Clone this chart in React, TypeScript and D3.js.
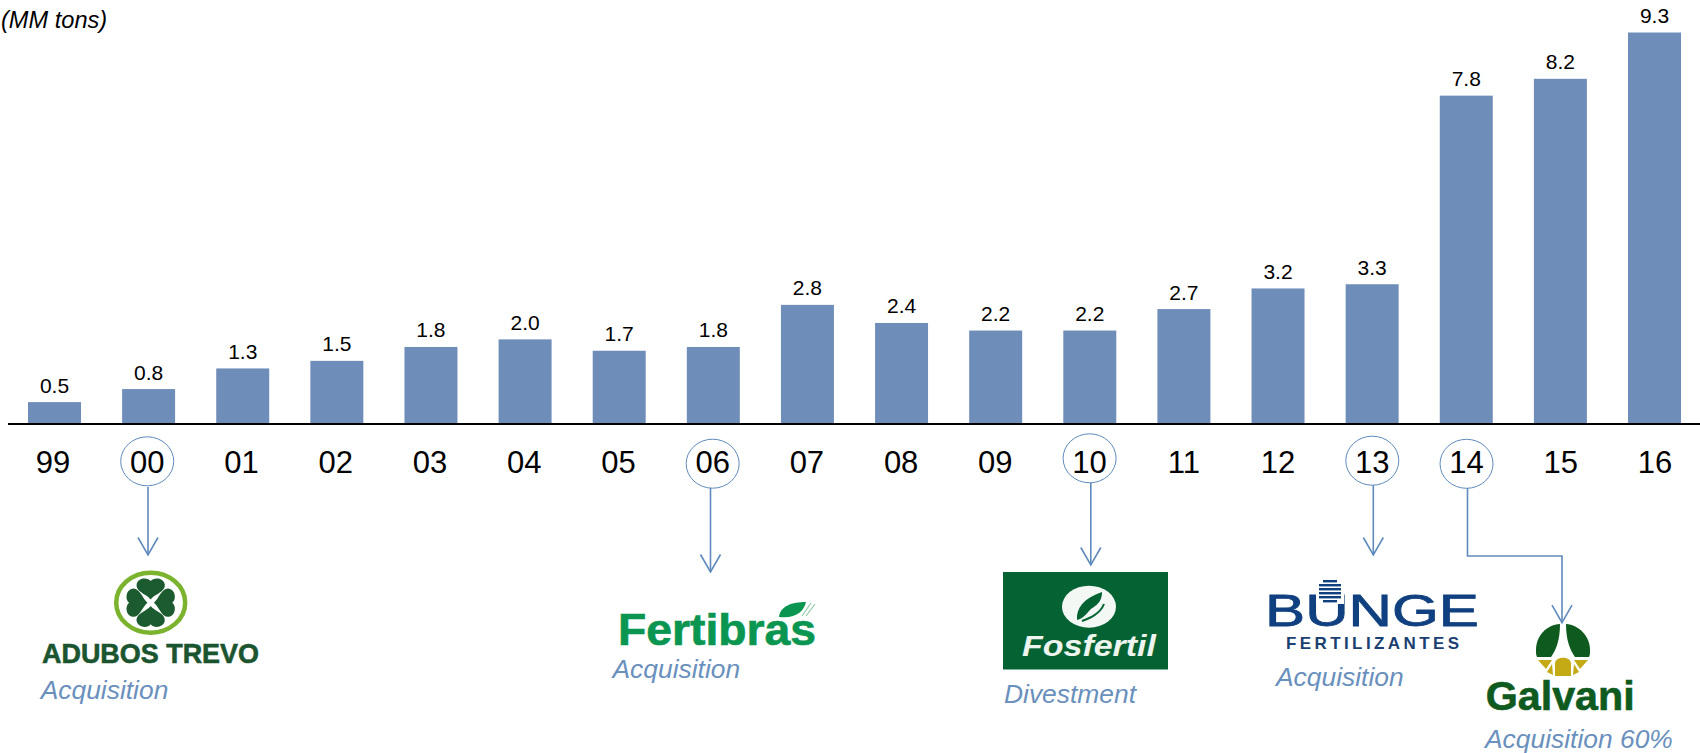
import React from "react";
import * as d3 from "d3";

const years = ["99", "00", "01", "02", "03", "04", "05", "06", "07", "08", "09", "10", "11", "12", "13", "14", "15", "16"];
const volumes = [0.52, 0.83, 1.32, 1.5, 1.83, 2.01, 1.74, 1.83, 2.83, 2.4, 2.22, 2.22, 2.73, 3.22, 3.32, 7.8, 8.2, 9.3];
const circledYears = ["00", "06", "10", "13", "14"];
const circleY = [461.3, 463.7, 458.3, 460.7, 463.8];

const width = 1700;
const height = 753;
const baseline = 424;
const barColor = "#6f8db9";
const noteColor = "#5f8abc";
const noteText = "#6a90bd";
const sans = "'Liberation Sans', Arial, sans-serif";

const x = d3.scaleBand<string>().domain(years).range([28, 1681]).paddingInner(0.437).paddingOuter(0);
const y = d3.scaleLinear().domain([0, 9.3]).range([baseline, 32.5]);
// the year labels sit a little off the bar centres in the original
const yearX = d3.scalePoint<string>().domain(years).range([53, 1655]);

const line = d3.line();

function Arrow({ points }: { points: [number, number][] }) {
  const [tx, ty] = points[points.length - 1];
  return (
    <g fill="none" stroke={noteColor}>
      <path d={line(points) || ""} strokeWidth={1.6} />
      <path d={line([[tx - 10, ty - 17.5], [tx, ty], [tx + 10, ty - 17.5]]) || ""} strokeWidth={1.6} />
    </g>
  );
}

function Note({ x, y, children }: { x: number; y: number; children: React.ReactNode }) {
  return (
    <text x={x} y={y} fontFamily={sans} fontStyle="italic" fontSize={26.4} fill={noteText}>
      {children}
    </text>
  );
}

const cloverLeaf = "M0,-3 C-4,-8 -14,-10 -13,-17 C-12,-23 -3,-24 0,-20 C3,-24 12,-23 13,-17 C14,-10 4,-8 0,-3Z";

function AdubosTrevo() {
  return (
    <g>
      <ellipse cx={150.7} cy={602.7} rx={34.5} ry={30} fill="#fff" stroke="#7bb32e" strokeWidth={4.5} />
      {[0, 90, 180, 270].map((r) => (
        <path key={r} d={cloverLeaf} fill="#1c5a2f" transform={`translate(150.7,602.7) rotate(${r}) scale(1.08)`} />
      ))}
      <text x={42} y={663} fontFamily={sans} fontWeight="bold" fontSize={28} fill="#1b5530" stroke="#1b5530" strokeWidth={0.6} textLength={217} lengthAdjust="spacingAndGlyphs">
        ADUBOS TREVO
      </text>
    </g>
  );
}

function Fertibras() {
  return (
    <g>
      <text x={618} y={645} fontFamily={sans} fontWeight="bold" fontSize={44} fill="#0a9650" stroke="#0a9650" strokeWidth={0.7} textLength={198} lengthAdjust="spacingAndGlyphs">
        Fertibras
      </text>
      <path d="M779,617 C780,606 792,602 806,602 C804,611 796,619 779,617Z" fill="#0a9650" />
      <path d="M802,616 L811,603 M806,616 L815,604" stroke="#8fcaa8" strokeWidth={1.2} fill="none" />
    </g>
  );
}

function Fosfertil() {
  return (
    <g>
      <rect x={1003} y={572} width={165} height={97.5} fill="#056333" />
      <ellipse cx={1089} cy={606.7} rx={27} ry={21} fill="#f4f8f4" />
      <path d="M1077,620 C1076,608 1084,598 1102,592 C1102,604 1094,606 1090,610 C1086,614 1084,618 1077,620Z" fill="#056333" />
      <path d="M1082,621 C1090,618 1100,614 1104,604" fill="none" stroke="#056333" strokeWidth={2} />
      <text x={1022} y={656} fontFamily={sans} fontWeight="bold" fontStyle="italic" fontSize={29} fill="#eef4ee" textLength={134} lengthAdjust="spacingAndGlyphs">
        Fosfertil
      </text>
    </g>
  );
}

function Bunge() {
  const stripes = [580, 584, 588, 592, 596, 600];
  return (
    <g>
      <text x={1265} y={626} fontFamily={sans} fontSize={44} fill="#10407f" stroke="#10407f" strokeWidth={0.8} textLength={214} lengthAdjust="spacingAndGlyphs">
        BUNGE
      </text>
      <rect x={1316} y={578} width={28} height={26} fill="#fff" />
      {stripes.map((s, i) => (
        <rect key={s} x={1330 - (i === 0 || i === 5 ? 7 : 11)} y={s} width={i === 0 || i === 5 ? 14 : 22} height={2.4} fill="#10407f" />
      ))}
      <text x={1286} y={649} fontFamily={sans} fontWeight="bold" fontSize={17} fill="#1c3f72" textLength={173}>
        FERTILIZANTES
      </text>
    </g>
  );
}

function Galvani() {
  const green = "#0e5a1f";
  const gold = "#c4aa14";
  return (
    <g>
      <path d="M1560,624 C1546,625 1536,636 1536,650 C1536,653 1536,655 1537,657 L1551,657 C1556,650 1560,640 1560,624Z" fill={green} />
      <path d="M1566,624 C1579,625 1590,636 1590,650 C1590,653 1590,655 1589,657 L1575,657 C1570,650 1566,640 1566,624Z" fill={green} />
      <path d="M1555,676 L1555,663 C1556,656 1570,656 1571,663 L1571,676Z" fill={gold} />
      <path d="M1538,660 L1552,660 L1546,669Z M1588,660 L1574,660 L1580,669Z" fill={gold} />
      <path d="M1547,672 L1552,664 L1553,675Z M1579,672 L1574,664 L1573,675Z" fill={gold} />
      <text x={1485.7} y={710} fontFamily={sans} fontWeight="bold" fontSize={40} fill={green} stroke={green} strokeWidth={0.6} textLength={149} lengthAdjust="spacingAndGlyphs">
        Galvani
      </text>
    </g>
  );
}

export default function App() {
  const bw = x.bandwidth();
  return (
    <svg width={width} height={height} style={{ position: "absolute", left: 0, top: 0, background: "#fff" }}>
      <text x={1} y={28} fontFamily={sans} fontStyle="italic" fontSize={23.6} fill="#000">(MM tons)</text>

      {years.map((yr, i) => (
        <g key={yr}>
          <rect x={x(yr)} y={y(volumes[i])} width={bw} height={baseline - y(volumes[i])} fill={barColor} />
          <text x={(x(yr) || 0) + bw / 2} y={y(volumes[i]) - 9.5} textAnchor="middle" fontFamily={sans} fontSize={21} fill="#000">
            {d3.format(".1f")(volumes[i])}
          </text>
          <text x={yearX(yr)} y={473} textAnchor="middle" fontFamily={sans} fontSize={31} fill="#000">{yr}</text>
        </g>
      ))}
      <line x1={8} x2={width} y1={baseline} y2={baseline} stroke="#000" strokeWidth={2} />

      {circledYears.map((yr, i) => (
        <ellipse key={yr} cx={yearX(yr)} cy={circleY[i]} rx={26.5} ry={24.5} fill="none" stroke={noteColor} strokeWidth={1} />
      ))}

      <Arrow points={[[148, 487], [148, 555]]} />
      <Arrow points={[[710.5, 488], [710.5, 572]]} />
      <Arrow points={[[1090.8, 483], [1090.8, 565]]} />
      <Arrow points={[[1373.3, 485], [1373.3, 555]]} />
      <Arrow points={[[1467.5, 488], [1467.5, 556], [1562, 556], [1562, 622.7]]} />

      <AdubosTrevo />
      <Note x={40.7} y={699}>Acquisition</Note>
      <Fertibras />
      <Note x={612.5} y={678}>Acquisition</Note>
      <Fosfertil />
      <Note x={1004} y={703}>Divestment</Note>
      <Bunge />
      <Note x={1276} y={686}>Acquisition</Note>
      <Galvani />
      <Note x={1485} y={748}>Acquisition 60%</Note>
    </svg>
  );
}
